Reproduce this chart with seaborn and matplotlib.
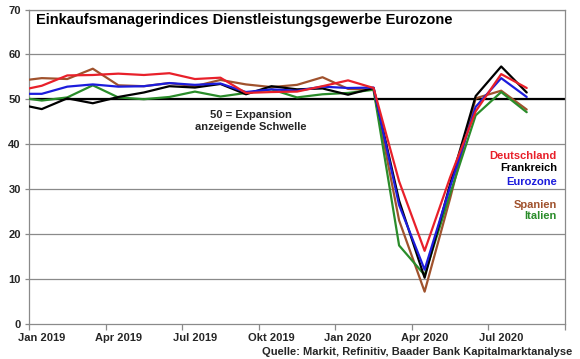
import matplotlib
matplotlib.use("Agg")
import matplotlib.pyplot as plt
import numpy as np
import pandas as pd
import seaborn as sns

# ---- data (Services PMI, Dez 2018 .. Aug 2020) ----
months = ["Dez 2018",
          "Jan 2019", "Feb 2019", "Mär 2019", "Apr 2019", "Mai 2019", "Jun 2019",
          "Jul 2019", "Aug 2019", "Sep 2019", "Okt 2019", "Nov 2019", "Dez 2019",
          "Jan 2020", "Feb 2020", "Mär 2020", "Apr 2020", "Mai 2020", "Jun 2020",
          "Jul 2020", "Aug 2020"]
deutschland = [51.8, 53.0, 55.3, 55.4, 55.7, 55.4, 55.8, 54.5, 54.8, 51.4, 51.6, 51.7, 52.9,
               54.2, 52.5, 31.7, 16.2, 32.6, 47.3, 55.6, 52.5]
frankreich = [49.0, 47.8, 50.2, 49.1, 50.5, 51.5, 52.9, 52.6, 53.4, 51.1, 52.9, 52.2, 52.4,
              51.0, 52.5, 27.4, 10.2, 31.1, 50.7, 57.3, 51.5]
eurozone = [51.2, 51.2, 52.8, 53.3, 52.8, 52.9, 53.6, 53.2, 53.5, 51.6, 52.2, 51.9, 52.8,
            52.5, 52.6, 26.4, 12.0, 30.5, 48.3, 54.7, 50.5]
spanien = [54.0, 54.7, 54.5, 56.8, 53.1, 52.9, 53.6, 52.9, 54.3, 53.3, 52.7, 53.2, 54.9,
           52.3, 52.1, 23.0, 7.1, 27.9, 50.2, 51.9, 47.7]
italien = [50.5, 49.7, 50.4, 53.1, 50.4, 50.0, 50.5, 51.7, 50.6, 51.4, 52.2, 50.4, 51.1,
           51.4, 52.1, 17.4, 10.8, 28.9, 46.4, 51.6, 47.1]

series_names = ["Spanien", "Italien", "Frankreich", "Eurozone", "Deutschland"]
series_values = [spanien, italien, frankreich, eurozone, deutschland]
colors = {"Deutschland": "#e8202a", "Frankreich": "#000000", "Eurozone": "#1c1cdc",
          "Spanien": "#a0522d", "Italien": "#2a8c2a"}

xtick_labels = ["Jan 2019", "Apr 2019", "Jul 2019", "Okt 2019", "Jan 2020", "Apr 2020", "Jul 2020"]
yticks = [0, 10, 20, 30, 40, 50, 60, 70]

title = "Einkaufsmanagerindices Dienstleistungsgewerbe Eurozone"
note = "50 = Expansion\nanzeigende Schwelle"
source = "Quelle: Markit, Refinitiv, Baader Bank Kapitalmarktanalyse"

# position of each month on a category axis (Jan 2019 = 0)
pos = list(range(-1, len(months) - 1))
df = pd.concat([pd.DataFrame({"pos": pos, "monat": months, "wert": v, "land": n})
                for n, v in zip(series_names, series_values)], ignore_index=True)

sns.set_theme(style="white")
plt.rcParams["font.family"] = ["Liberation Sans", "DejaVu Sans"]
plt.rcParams["font.weight"] = "bold"

fig = plt.figure(figsize=(5.8, 3.59), dpi=100)
ax = fig.add_axes([29 / 580, 1 - 323.5 / 359, 536 / 580, 314 / 359])

grid_c = "#8a8a8a"
for yv in yticks[1:]:
    ax.axhline(yv, color=grid_c, lw=0.9, zorder=1)
ax.axhline(50, color="black", lw=1.6, zorder=2)

sns.lineplot(data=df, x="pos", y="wert", hue="land", hue_order=series_names,
             palette=colors, legend=False, linewidth=1.6, sort=False, ax=ax, zorder=3)

ax.set_xlim(-0.5, 20.5)
ax.set_ylim(0, 70)
ax.set_xlabel("")
ax.set_ylabel("")

# x axis: ticks between categories, labels at category centres
ax.set_xticks(np.arange(-0.5, 21, 3))
ax.set_xticklabels([])
ax.set_xticks(np.arange(0, 19, 3), minor=True)
ax.set_xticklabels(xtick_labels, minor=True, fontsize=8, fontweight="bold")
ax.tick_params(axis="x", which="major", length=4, width=0.9, color=grid_c, bottom=True)
ax.tick_params(axis="x", which="minor", length=0, pad=7)

ax.set_yticks(yticks)
ax.set_yticklabels([str(v) for v in yticks], fontsize=8, fontweight="bold")
ax.tick_params(axis="y", length=3, width=0.9, color=grid_c, left=True, pad=3)

for s in ax.spines.values():
    s.set_color(grid_c)
    s.set_linewidth(0.9)

ax.text(0.013, 0.967, title, transform=ax.transAxes, ha="left", va="center",
        fontsize=10.5, fontweight="bold", color="black")
ax.text(0.414, 0.645, note, transform=ax.transAxes, ha="center", va="center",
        fontsize=8, fontweight="bold", linespacing=1.25)

legend_pos = [("Deutschland", 0.534), ("Frankreich", 0.496), ("Eurozone", 0.4516),
              ("Spanien", 0.377), ("Italien", 0.342)]
for name, yy in legend_pos:
    ax.text(0.985, yy, name, transform=ax.transAxes, ha="right", va="center",
            fontsize=8, fontweight="bold", color=colors[name])

fig.text(0.986, 1 - 352 / 359, source, ha="right", va="center",
         fontsize=8, fontweight="bold")

fig.savefig("out.png", dpi=100)
